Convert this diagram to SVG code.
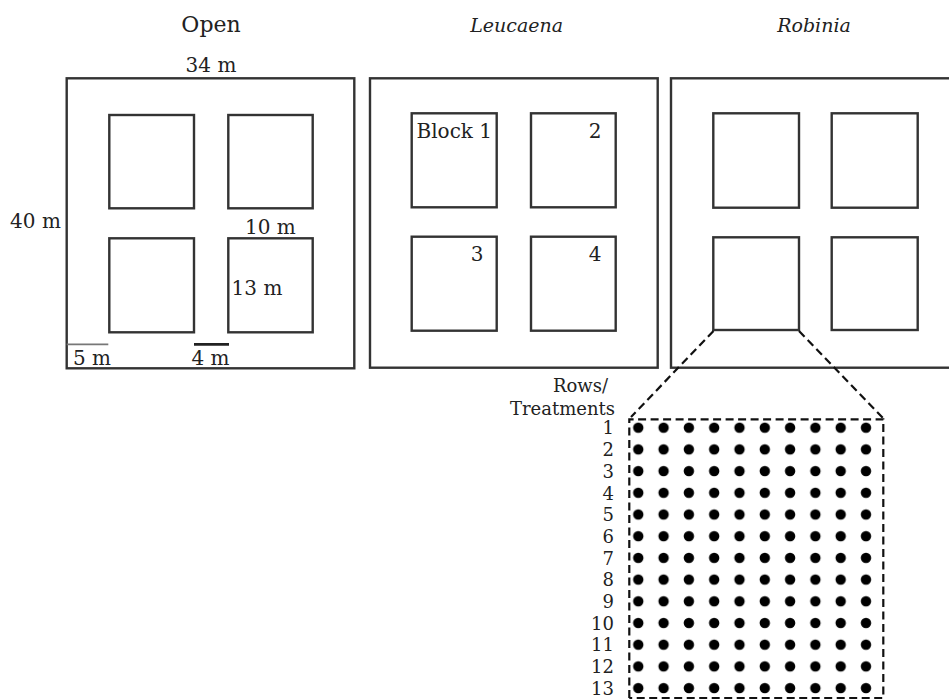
<svg xmlns="http://www.w3.org/2000/svg" width="949" height="700" viewBox="0 0 949 700">
<style>
.frame{fill:none;stroke:#333;stroke-width:2.4}
.blk{fill:none;stroke:#333;stroke-width:2.4}
.t{font-family:"DejaVu Serif","Liberation Serif",serif;font-size:20px;fill:#222}
.s{font-size:18px}
.it{font-family:"DejaVu Serif","Liberation Serif",serif;font-size:19px;font-style:italic;fill:#222}
.r{text-anchor:end}
.dash{fill:none;stroke:#111;stroke-width:2.2;stroke-dasharray:8 4.5}
.dot{fill:#000}
</style>
<rect width="949" height="700" fill="#fff"/>
<g id="titles">
<text class="t" x="211" y="31.7" text-anchor="middle" style="font-size:22px">Open</text>
<text class="it" x="516.7" y="31.7" text-anchor="middle">Leucaena</text>
<text class="it" x="814" y="31.7" text-anchor="middle">Robinia</text>
</g>
<g id="open-plot">
<rect class="frame" x="66.7" y="78.3" width="287.6" height="290"/>
<rect class="blk" x="109.3" y="115" width="84.7" height="93.3"/>
<rect class="blk" x="228.3" y="115" width="84.4" height="93.3"/>
<rect class="blk" x="109.3" y="238.3" width="84.7" height="94"/>
<rect class="blk" x="228.3" y="238.3" width="84.4" height="94"/>
<line x1="66.7" y1="344.4" x2="108.3" y2="344.4" stroke="#777" stroke-width="1.6"/>
<line x1="194" y1="344.4" x2="229" y2="344.4" stroke="#222" stroke-width="2.8"/>
<text class="t" x="211" y="71.7" text-anchor="middle">34 m</text>
<text class="t" x="35.5" y="228.3" text-anchor="middle">40 m</text>
<text class="t" x="270.3" y="234" text-anchor="middle">10 m</text>
<text class="t" x="257" y="295" text-anchor="middle">13 m</text>
<text class="t" x="92" y="365" text-anchor="middle">5 m</text>
<text class="t" x="210.5" y="365" text-anchor="middle">4 m</text>
</g>
<g id="leucaena-plot">
<rect class="frame" x="370" y="78.3" width="287.7" height="289.4"/>
<rect class="blk" x="411.7" y="113.3" width="85" height="94"/>
<rect class="blk" x="531" y="113.3" width="84.7" height="94"/>
<rect class="blk" x="411.7" y="236.7" width="85" height="94"/>
<rect class="blk" x="531" y="236.7" width="84.7" height="94"/>
<text class="t" x="454.3" y="138.3" text-anchor="middle">Block 1</text>
<text class="t" x="595" y="138.3" text-anchor="middle">2</text>
<text class="t" x="477" y="260.5" text-anchor="middle">3</text>
<text class="t" x="595" y="261" text-anchor="middle">4</text>
</g>
<g id="robinia-plot">
<rect class="frame" x="671" y="78.3" width="300" height="289.4"/>
<rect class="blk" x="713.3" y="113.3" width="85.7" height="94.4"/>
<rect class="blk" x="831.7" y="113.3" width="86" height="94.4"/>
<rect class="blk" x="713.3" y="237.3" width="85.7" height="92.7"/>
<rect class="blk" x="831.7" y="237.3" width="86" height="92.7"/>
</g>
<g id="connectors">
<line class="dash" x1="713.5" y1="331" x2="631" y2="417"/>
<line class="dash" x1="799" y1="331" x2="883" y2="418"/>
</g>
<g id="detail-block">
<path class="dash" d="M629.3 698 V419.3 H883.3 V698 H629.3"/>
<text class="t s r" x="608" y="391.7">Rows/</text>
<text class="t s r" x="615" y="415">Treatments</text>
<g class="t s r">
<text x="614" y="434.4">1</text>
<text x="614" y="456.1">2</text>
<text x="614" y="477.8">3</text>
<text x="614" y="499.5">4</text>
<text x="614" y="521.2">5</text>
<text x="614" y="542.9">6</text>
<text x="614" y="564.6">7</text>
<text x="614" y="586.3">8</text>
<text x="614" y="608">9</text>
<text x="614" y="629.7">10</text>
<text x="614" y="651.4">11</text>
<text x="614" y="673.1">12</text>
<text x="614" y="694.8">13</text>
</g>
<pattern id="dots" x="625.65" y="416.85" width="25.3" height="21.7" patternUnits="userSpaceOnUse">
<circle class="dot" cx="12.65" cy="10.85" r="5.2"/>
</pattern>
<rect x="625.65" y="416.85" width="253" height="282.1" fill="url(#dots)"/>
</g>
</svg>
